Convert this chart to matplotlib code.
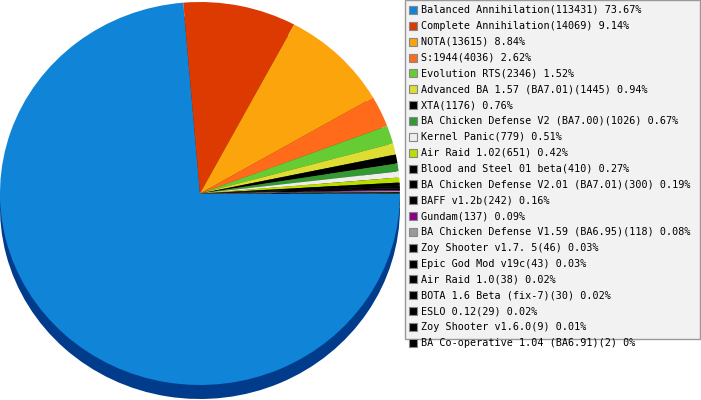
import matplotlib.pyplot as plt
from matplotlib.patches import Rectangle

# DATA
names = ["Balanced Annihilation", "Complete Annihilation", "NOTA", "S:1944",
         "Evolution RTS", "Advanced BA 1.57 (BA7.01)", "XTA",
         "BA Chicken Defense V2 (BA7.00)", "Kernel Panic", "Air Raid 1.02",
         "Blood and Steel 01 beta", "BA Chicken Defense V2.01 (BA7.01)",
         "BAFF v1.2b", "Gundam", "BA Chicken Defense V1.59 (BA6.95)",
         "Zoy Shooter v1.7. 5", "Epic God Mod v19c", "Air Raid 1.0",
         "BOTA 1.6 Beta (fix-7)", "ESLO 0.12", "Zoy Shooter v1.6.0",
         "BA Co-operative 1.04 (BA6.91)"]
counts = [113431, 14069, 13615, 4036, 2346, 1445, 1176, 1026, 779, 651,
          410, 300, 242, 137, 118, 46, 43, 38, 30, 29, 9, 2]
percents = ["73.67", "9.14", "8.84", "2.62", "1.52", "0.94", "0.76", "0.67",
            "0.51", "0.42", "0.27", "0.19", "0.16", "0.09", "0.08", "0.03",
            "0.03", "0.02", "0.02", "0.02", "0.01", "0"]
colors = ["#1084d6", "#dc3a00", "#fba40c", "#ff6b1a", "#66cc33", "#dddd33",
          "#000000", "#339933", "#eeeeee", "#bbdd00", "#000000", "#000000",
          "#000000", "#880088", "#999999", "#000000", "#000000", "#000000",
          "#000000", "#000000", "#000000", "#000000"]


def darker(c, f=0.45):
    r, g, b = [int(c[i:i + 2], 16) for i in (1, 3, 5)]
    return (r / 255 * f, g / 255 * f, b / 255 * f)


# PLOT
W, H = 701, 400
fig = plt.figure(figsize=(W / 100, H / 100), dpi=100)
ax = fig.add_axes([0, 0, 1, 1])

# y units scaled so the pie becomes a slightly flat ellipse
sy = 200 / 191.5
cx, cy = 200, (H - 193.5) * sy
depth = 14 * sy

# side of the "3d" pie, then the top face
side_colors = [(0.0, 0.23, 0.55)] + [darker(c) for c in colors[1:]]
ax.pie(counts, colors=side_colors, startangle=0, counterclock=False,
       radius=200, center=(cx, cy - depth), frame=True,
       wedgeprops=dict(linewidth=0))
ax.pie(counts, colors=colors, startangle=0, counterclock=False,
       radius=200, center=(cx, cy), frame=True,
       wedgeprops=dict(linewidth=0))

ax.set_aspect("auto")
ax.set_xlim(0, W)
ax.set_ylim(0, H * sy)
ax.axis("off")

# legend box drawn in figure pixels
fig.patches.append(Rectangle((405 / W, (H - 339) / H), 295 / W, 339 / H,
                             transform=fig.transFigure, facecolor="#f2f2f2",
                             edgecolor="#999999", linewidth=1))
row_h = 15.85
for i, (n, c, p, col) in enumerate(zip(names, counts, percents, colors)):
    yc = 10 + i * row_h
    fig.patches.append(Rectangle((409 / W, (H - yc - 4) / H), 8 / W, 8 / H,
                                 transform=fig.transFigure, facecolor=col,
                                 edgecolor="#888888", linewidth=0.8))
    fig.text(421 / W, (H - yc) / H, f"{n}({c}) {p}%", fontsize=7.3,
             family="DejaVu Sans Mono", va="center", ha="left")

fig.savefig("out.png", dpi=100)
